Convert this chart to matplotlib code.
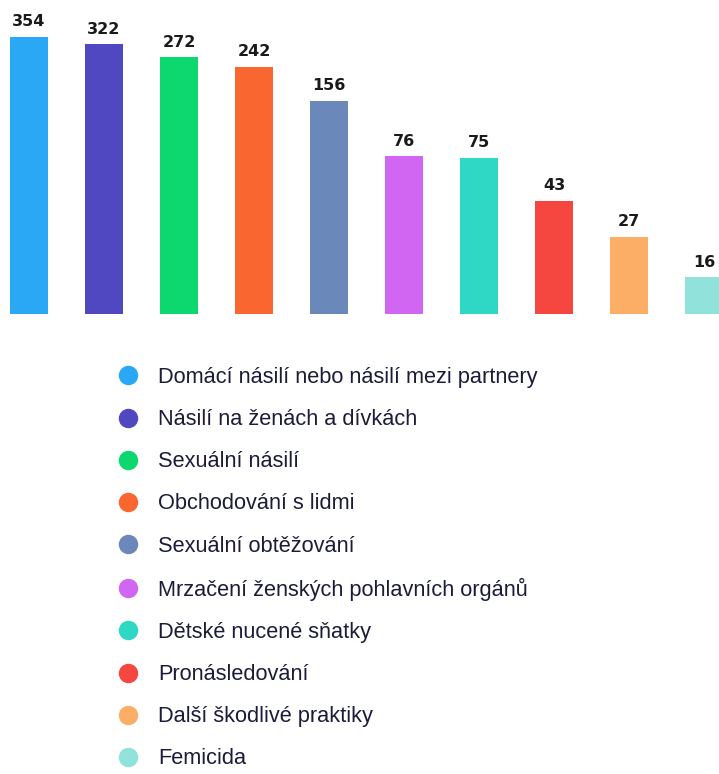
import matplotlib
matplotlib.use("Agg")
import matplotlib.pyplot as plt
from matplotlib.lines import Line2D

categories = [
    "Domácí násilí nebo násilí mezi partnery",
    "Násilí na ženách a dívkách",
    "Sexuální násilí",
    "Obchodování s lidmi",
    "Sexuální obtěžování",
    "Mrzačení ženských pohlavních orgánů",
    "Dětské nucené sňatky",
    "Pronásledování",
    "Další škodlivé praktiky",
    "Femicida",
]
values = [354, 322, 272, 242, 156, 76, 75, 43, 27, 16]
colors = ["#2BA8F5", "#5048C0", "#0CD86F", "#FA6630", "#6A88BA",
          "#D066F2", "#2ED8C4", "#F5473F", "#FCAE66", "#90E2DA"]

W, H = 719, 774
fig = plt.figure(figsize=(W / 100, H / 100), dpi=100)
base = 314
ax = fig.add_axes([0, 1 - base / H, 1, base / H])
x = list(range(len(values)))
ax.bar(x, values, width=0.51, color=colors, bottom=0)
ax.set_yscale("log")
ax.set_ylim(10, 570)
ax.set_xlim(-29 / 75, (W - 29) / 75)
for s in ax.spines.values():
    s.set_visible(False)
ax.set_xticks([])
ax.set_yticks([])
ax.minorticks_off()
for xi, v in zip(x, values):
    ax.annotate(str(v), (xi, v), xytext=(0, 5.5), textcoords="offset points",
                ha="center", va="bottom", fontsize=11.5, fontweight="bold",
                family="DejaVu Sans", color="#1a1a1a")

handles = [Line2D([], [], marker="o", linestyle="none", markersize=13,
                  markerfacecolor=c, markeredgecolor=c) for c in colors]
leg = fig.legend(handles, categories, loc="upper left",
                 bbox_to_anchor=(117 / W, 1 - 367 / H), frameon=False,
                 prop={"family": "Liberation Sans", "size": 15.7},
                 labelspacing=0.97, handlelength=1.0, handletextpad=0.88,
                 borderpad=0, borderaxespad=0)
for t in leg.get_texts():
    t.set_color("#1c1c3a")

fig.savefig("out.png", dpi=100)
